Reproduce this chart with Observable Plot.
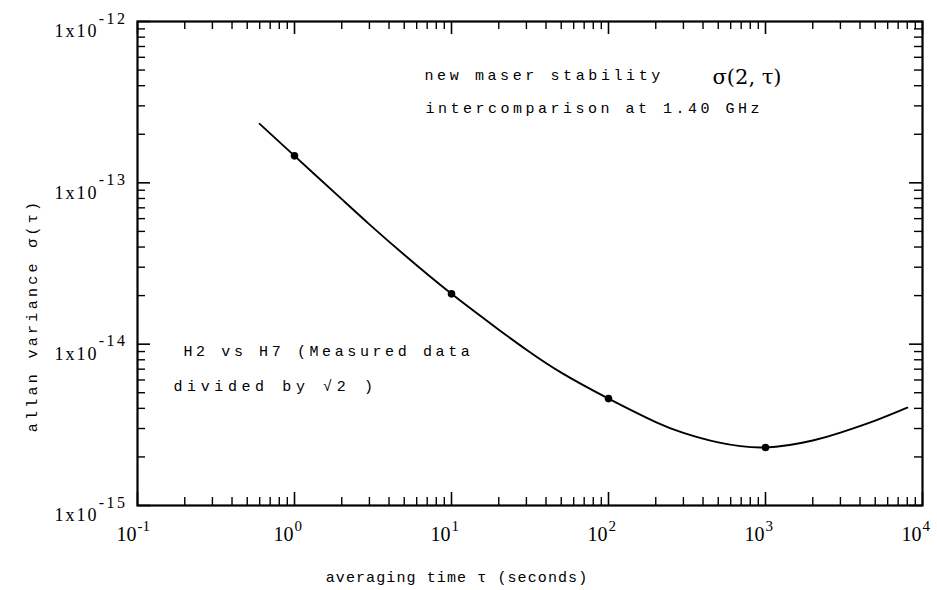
<!DOCTYPE html>
<html>
<head>
<meta charset="utf-8">
<script src="https://cdn.jsdelivr.net/npm/d3@7"></script>
<script src="https://cdn.jsdelivr.net/npm/@observablehq/plot@0.6"></script>
<style>
  html, body { margin: 0; padding: 0; background: #fff; }
</style>
</head>
<body>
<div id="chart"></div>
<script>
// ---- data ----
const tau   = [0.6, 1, 2, 3, 5, 10, 20, 30, 50, 100, 200, 300, 500, 1000, 2000, 3000, 5000, 8000];
const sigma = [2.32e-13, 1.47e-13, 7.92e-14, 5.53e-14, 3.58e-14, 2.05e-14, 1.23e-14, 9.24e-15, 6.66e-15,
               4.60e-15, 3.29e-15, 2.82e-15, 2.46e-15, 2.29e-15, 2.53e-15, 2.83e-15, 3.36e-15, 4.04e-15];
const pointTau   = [1, 10, 100, 1000];
const pointSigma = [1.47e-13, 2.05e-14, 4.60e-15, 2.29e-15];

const xDecades = [0.1, 1, 10, 100, 1000, 10000];
const xExps    = ["-1", "0", "1", "2", "3", "4"];
const yDecades = [1e-15, 1e-14, 1e-13, 1e-12];
const yExps    = ["-15", "-14", "-13", "-12"];
const minorSteps = [2, 3, 4, 5, 6, 7, 8, 9];

const title1 = "new maser stability";
const title1b = "σ(2, τ)";
const title2 = "intercomparison at 1.40 GHz";
const note1 = "H2 vs H7 (Measured data";
const note2 = "divided by √2 )";
const xLabel = "averaging time τ (seconds)";
const yLabel = "allan variance σ(τ)";

// ---- derived tables ----
const curve = tau.map((t, i) => ({t, s: sigma[i]}));
const pts = pointTau.map((t, i) => ({t, s: pointSigma[i]}));
const xMinor = xDecades.slice(0, -1).flatMap(d => minorSteps.map(k => k * d));
const yMinor = yDecades.slice(0, -1).flatMap(d => minorSteps.map(k => k * d));
const xTicks = xDecades.map((v, i) => ({v, e: xExps[i]}));
const yTicks = yDecades.map((v, i) => ({v, e: yExps[i]}));

const W = 937, H = 590;
const mL = 137, mR = 15, mT = 21, mB = 85;
const fw = W - mL - mR, fh = H - mT - mB;
const major = 13, minor = 8;
const serif = "Liberation Serif";
const mono = "Liberation Mono";

const chart = Plot.plot({
  width: W, height: H,
  marginLeft: mL, marginRight: mR, marginTop: mT, marginBottom: mB,
  x: {type: "log", domain: [0.1, 1e4], axis: null},
  y: {type: "log", domain: [1e-15, 1e-12], axis: null},
  style: {background: "#fff", color: "#000", fontFamily: serif},
  marks: [
    // inward ticks: bottom / top
    Plot.tickX(xDecades, {x: d => d, insetTop: fh - major, stroke: "#000", strokeWidth: 1.6}),
    Plot.tickX(xMinor, {x: d => d, insetTop: fh - minor, stroke: "#000", strokeWidth: 1.4}),
    Plot.tickX(xDecades, {x: d => d, insetBottom: fh - major, stroke: "#000", strokeWidth: 1.6}),
    Plot.tickX(xMinor, {x: d => d, insetBottom: fh - minor, stroke: "#000", strokeWidth: 1.4}),
    // inward ticks: left / right
    Plot.tickY(yDecades, {y: d => d, insetRight: fw - major, stroke: "#000", strokeWidth: 1.6}),
    Plot.tickY(yMinor, {y: d => d, insetRight: fw - minor, stroke: "#000", strokeWidth: 1.4}),
    Plot.tickY(yDecades, {y: d => d, insetLeft: fw - major, stroke: "#000", strokeWidth: 1.6}),
    Plot.tickY(yMinor, {y: d => d, insetLeft: fw - minor, stroke: "#000", strokeWidth: 1.4}),
    Plot.frame({stroke: "#000", strokeWidth: 2.2}),

    // x tick labels 10^n
    Plot.text(xTicks, {x: "v", frameAnchor: "bottom", text: () => "10", textAnchor: "end", dx: -1, dy: 35,
      fontSize: 20, fontFamily: serif, fill: "#000"}),
    Plot.text(xTicks, {x: "v", frameAnchor: "bottom", text: "e", textAnchor: "start", dx: 0, dy: 25,
      fontSize: 15, fontFamily: serif, fill: "#000"}),

    // y tick labels 1x10^n
    Plot.text(yTicks, {y: "v", frameAnchor: "left", text: () => "1x10", textAnchor: "end", dx: -39, dy: 10,
      fontSize: 18, fontFamily: serif, fill: "#000"}),
    Plot.text(yTicks, {y: "v", frameAnchor: "left", text: "e", textAnchor: "end", dx: -10, dy: -3,
      fontSize: 16, fontFamily: serif, fill: "#000"}),

    // data
    Plot.line(curve, {x: "t", y: "s", curve: "natural", stroke: "#000", strokeWidth: 1.9}),
    Plot.dot(pts, {x: "t", y: "s", r: 3.8, fill: "#000", stroke: "none"}),

    // annotations
    Plot.text([title1], {text: d => d, frameAnchor: "top-left", dx: 287, dy: 48, textAnchor: "start",
      fontFamily: mono, fontSize: 15, fill: "#000"}),
    Plot.text([title1b], {text: d => d, frameAnchor: "top-left", dx: 575, dy: 48, textAnchor: "start",
      fontFamily: "DejaVu Serif", fontSize: 21, fill: "#000"}),
    Plot.text([title2], {text: d => d, frameAnchor: "top-left", dx: 288, dy: 81, textAnchor: "start",
      fontFamily: mono, fontSize: 15, fill: "#000"}),
    Plot.text([note1], {text: d => d, frameAnchor: "top-left", dx: 46, dy: 324, textAnchor: "start",
      fontFamily: mono, fontSize: 15, fill: "#000"}),
    Plot.text([note2], {text: d => d, frameAnchor: "top-left", dx: 36, dy: 359, textAnchor: "start",
      fontFamily: mono, fontSize: 15, fill: "#000"}),

    // axis titles
    Plot.text([xLabel], {text: d => d, frameAnchor: "bottom", dx: -73, dy: 76, textAnchor: "middle",
      fontFamily: mono, fontSize: 15, fill: "#000"}),
    Plot.text([yLabel], {text: d => d, frameAnchor: "left", dx: -105, dy: 52, rotate: -90, textAnchor: "middle",
      fontFamily: mono, fontSize: 15, fill: "#000"})
  ]
});

// letter spacing to mimic the typewriter lettering
const spacing = new Map([
  [title1, "3.6px"], [title2, "3.5px"], [note1, "3.6px"], [note2, "4.6px"],
  [xLabel, "1.1px"], [yLabel, "3.3px"], ["1x10", "2px"]
]);
yExps.forEach(e => spacing.set(e, "2.5px"));
d3.select(chart).selectAll("text").each(function () {
  const s = spacing.get(this.textContent);
  if (s) this.style.letterSpacing = s;
});
document.getElementById("chart").appendChild(chart);
</script>
</body>
</html>
